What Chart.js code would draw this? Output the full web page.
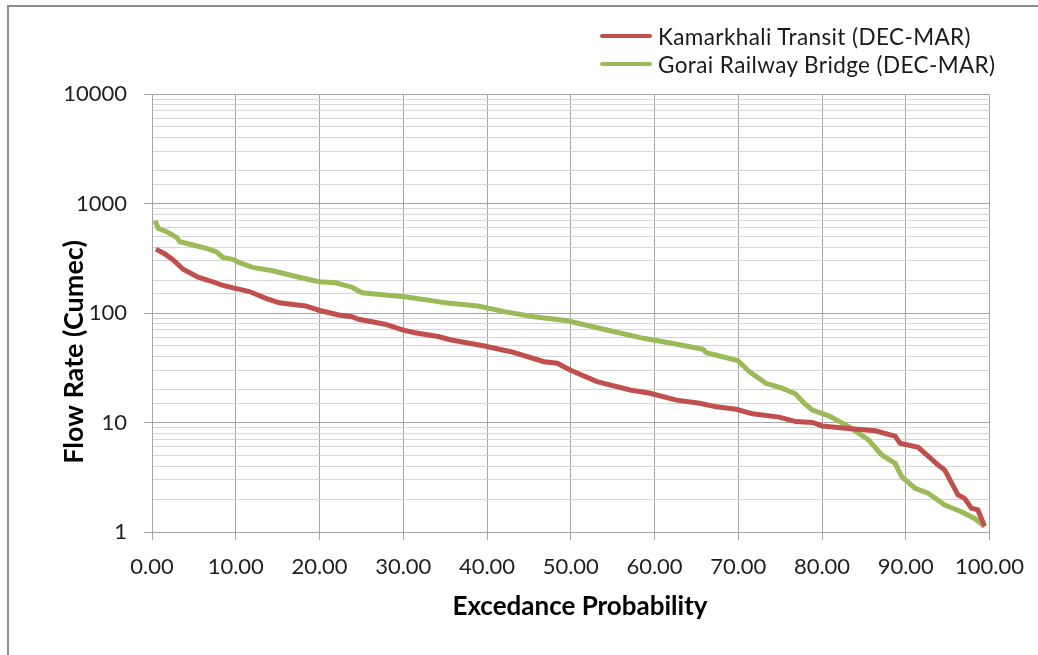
<!DOCTYPE html>
<html>
<head>
<meta charset="utf-8">
<script src="https://cdn.jsdelivr.net/npm/chart.js@4/dist/chart.umd.min.js"></script>
<style>
  body { margin: 0; background: #fff; }
  #wrap { position: relative; width: 1038px; height: 655px; overflow: hidden; }
  #frame { position: absolute; left: 7px; top: 5px; width: 1100px; height: 700px;
           border-left: 2px solid #8c8c8c; border-top: 2px solid #8c8c8c; }
  #legend { position: absolute; left: 600px; top: 22px; font-family: Lato, sans-serif;
            font-size: 22.5px; letter-spacing: 0.4px; color: #1a1a1a; }
  .row { display: flex; align-items: center; height: 28px; }
  .swatch { width: 52px; height: 4px; border-radius: 2px; margin-right: 6px; }
</style>
</head>
<body>
<div id="wrap">
  <div id="frame"></div>
  <canvas id="flowChart" width="1038" height="655"></canvas>
  <div id="legend"></div>
</div>
<script>
// Curva de duración de caudales (probabilidad de excedencia vs caudal)
const seriesNames = ["Kamarkhali Transit (DEC-MAR)", "Gorai Railway Bridge (DEC-MAR)"];
const seriesColors = ["#c0504d", "#9bbb59"];

const kamarkhaliX = [0.47, 1.54, 2.53, 3.71, 4.51, 5.49, 6.88, 8.46, 9.96, 11.63, 13.61, 15.18, 18.35, 19.93,
  22.3, 23.88, 24.67, 27.84, 29.89, 31.4, 34.16, 35.74, 39.7, 42.86, 46.82, 48.4, 49.98, 53.14, 53.94, 57.1,
  59.47, 62.63, 65.4, 67.38, 69.75, 71.73, 74.89, 76.87, 78.85, 80.04, 82.8, 86.36, 88.73, 89.32, 91.49,
  92.68, 93.87, 94.66, 96.24, 97.03, 97.83, 98.61, 99.41];
const kamarkhaliY = [383, 346, 305, 251, 233, 212, 197, 179, 168, 157, 136, 124, 116, 106,
  96, 92.5, 87.6, 79, 70, 66, 61, 56.7, 50, 44.3, 35.9, 34.8, 30, 23.6, 22.8, 19.8,
  18.5, 16, 15, 13.9, 13.2, 12, 11.2, 10.2, 10, 9.3, 8.85, 8.4, 7.5, 6.46, 5.93,
  4.94, 4.09, 3.68, 2.18, 2.03, 1.65, 1.59, 1.13];

const goraiX = [0.36, 0.75, 1.74, 2.93, 3.32, 4.9, 6.49, 7.67, 8.46, 9.64, 10.44, 12.02, 14.39, 15.98,
  17.56, 19.93, 21.91, 23.88, 25.07, 27.84, 30.21, 34.16, 34.96, 38.91, 42.08, 45.63, 49.59, 53.94, 58.68,
  61.06, 64.21, 65.8, 66.19, 67.77, 69.95, 71.35, 73.31, 75.29, 76.87, 77.85, 78.85, 80.82, 83.19, 85.56,
  87.14, 88.73, 89.52, 91.1, 92.68, 94.66, 96.64, 98.22, 99.41];
const goraiY = [697, 593, 553, 491, 448, 418, 390, 363, 322, 309, 288, 261, 243, 227,
  212, 193, 189, 172, 153, 146, 141, 127, 124, 116, 103, 92.5, 85, 71, 58.7,
  54.7, 49.2, 46.6, 43.4, 40.5, 36.7, 29.1, 22.8, 20.5, 18.2, 15, 13, 11.5, 9.16, 6.92,
  5.05, 4.24, 3.2, 2.51, 2.26, 1.76, 1.53, 1.33, 1.12];

const xTitle = "Excedance Probability";
const yTitle = "Flow Rate (Cumec)";

const FONT = "Lato, sans-serif";
const isDecade = v => Math.abs(Math.log10(v) - Math.round(Math.log10(v))) < 1e-9;

// leyenda en HTML
const legend = document.getElementById("legend");
seriesNames.forEach((name, i) => {
  const row = document.createElement("div");
  row.className = "row";
  row.innerHTML = `<span class="swatch" style="background:${seriesColors[i]}"></span><span>${name}</span>`;
  legend.appendChild(row);
});

// títulos de ejes dibujados a mano para colocarlos como en el original
const axisTitles = {
  id: "axisTitles",
  afterDraw(chart) {
    const c = chart.ctx;
    c.save();
    c.fillStyle = "#000";
    c.textAlign = "center";
    c.textBaseline = "middle";
    c.font = `bold 26px ${FONT}`;
    c.fillText(xTitle, 580, 607);
    c.translate(74, 352);
    c.rotate(-Math.PI / 2);
    c.font = `bold 27px ${FONT}`;
    c.fillText(yTitle, 0, 0);
    c.restore();
  }
};

const toPoints = (xs, ys) => xs.map((x, i) => ({ x, y: ys[i] }));

new Chart(document.getElementById("flowChart"), {
  type: "line",
  data: {
    datasets: [
      {
        label: seriesNames[0],
        data: toPoints(kamarkhaliX, kamarkhaliY),
        borderColor: seriesColors[0],
        borderWidth: 5,
        pointRadius: 0,
        tension: 0
      },
      {
        label: seriesNames[1],
        data: toPoints(goraiX, goraiY),
        borderColor: seriesColors[1],
        borderWidth: 5,
        pointRadius: 0,
        tension: 0
      }
    ]
  },
  options: {
    responsive: false,
    animation: false,
    layout: { padding: { top: 94, right: 43, left: 0, bottom: 0 } },
    plugins: {
      legend: { display: false },
      tooltip: { enabled: false }
    },
    scales: {
      x: {
        type: "linear",
        min: 0,
        max: 100,
        afterFit: s => { s.height = 123; },
        border: { color: "#a6a6a6", width: 1 },
        grid: { color: "#a6a6a6", tickLength: 8, tickColor: "#a6a6a6" },
        ticks: {
          stepSize: 10,
          padding: 14,
          color: "#1f1f1f",
          font: { family: FONT, size: 22 },
          maxRotation: 0,
          callback: v => Number(v).toFixed(2)
        }
      },
      y: {
        type: "logarithmic",
        min: 1,
        max: 10000,
        afterFit: s => { s.width = 152; },
        border: { color: "#a6a6a6", width: 1 },
        grid: {
          color: ctx => isDecade(ctx.tick.value) ? "#a6a6a6" : "#d4d4d4",
          tickColor: ctx => isDecade(ctx.tick.value) ? "#a6a6a6" : "rgba(0,0,0,0)",
          tickLength: 8
        },
        ticks: {
          autoSkip: false,
          padding: 17,
          color: "#1f1f1f",
          font: { family: FONT, size: 22 },
          callback: v => isDecade(v) ? String(Math.round(v)) : ""
        }
      }
    }
  },
  plugins: [axisTitles]
});
</script>
</body>
</html>
